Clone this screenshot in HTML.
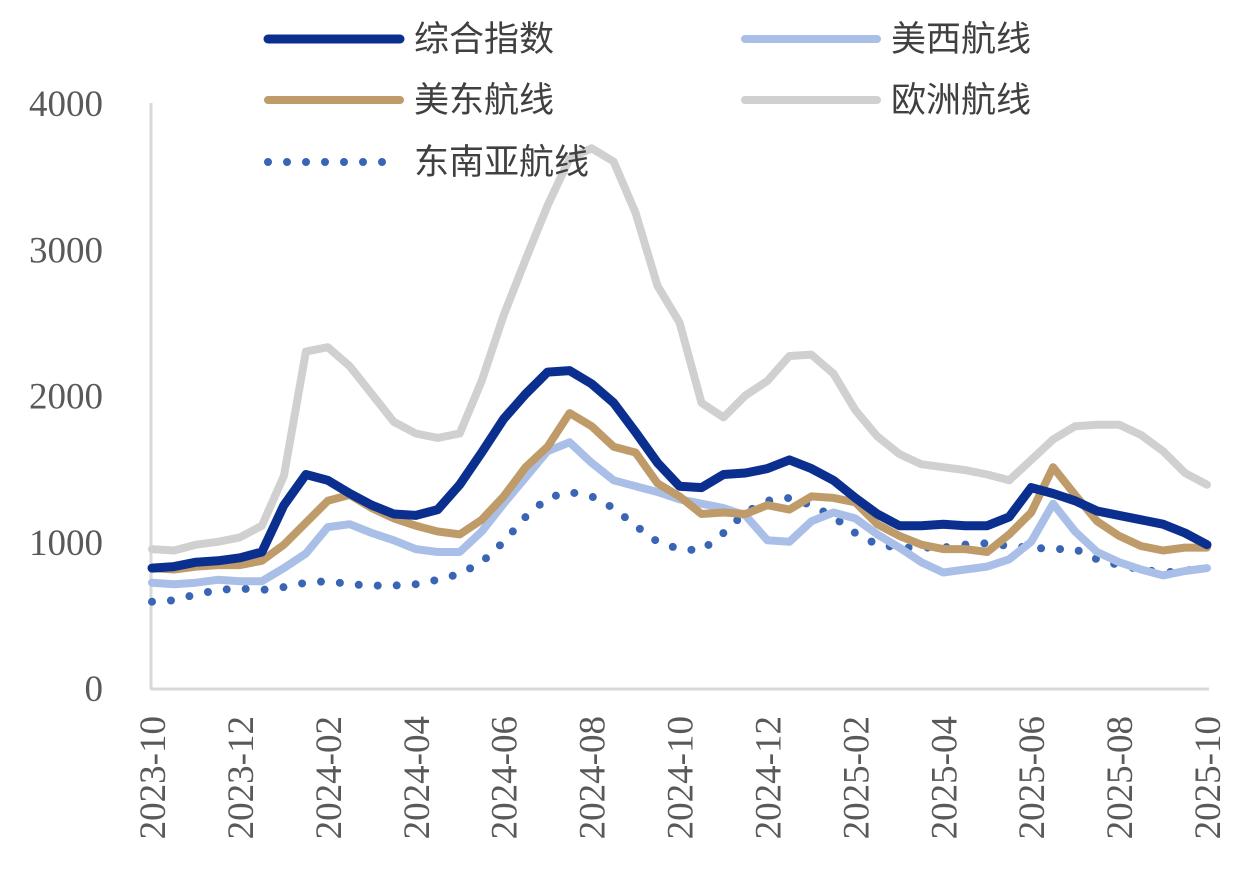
<!DOCTYPE html>
<html><head><meta charset="utf-8"><style>
html,body{margin:0;padding:0;background:#fff;}
svg{display:block;}
.tick{font-family:"Liberation Serif","Noto Serif CJK SC",serif;font-size:37px;fill:#595959;}
.leg{font-family:"Liberation Sans","Noto Sans CJK SC",sans-serif;font-size:35px;fill:#404040;}
</style></head><body>
<svg id="chart" width="1245" height="873" viewBox="0 0 1245 873" xmlns="http://www.w3.org/2000/svg">
<g id="axes"></g>
<g id="series"></g>
<g id="legend"></g>
</svg>
<script>
// months since 2023-10, every half month
const monthOffsets = [];
for (let i = 0; i <= 48; i++) monthOffsets.push(i / 2);
const xTickLabels = ["2023-10","2023-12","2024-02","2024-04","2024-06","2024-08","2024-10","2024-12","2025-02","2025-04","2025-06","2025-08","2025-10"];
const yTickValues = [0, 1000, 2000, 3000, 4000];
const composite = [820,830,860,870,890,930,1250,1460,1420,1330,1250,1190,1180,1220,1390,1610,1840,2010,2160,2170,2080,1950,1750,1540,1380,1370,1460,1470,1500,1560,1500,1420,1300,1190,1110,1110,1120,1110,1110,1170,1370,1330,1280,1210,1180,1150,1120,1060,980];
const usWest = [720,710,720,740,730,730,820,920,1100,1120,1060,1010,950,930,930,1070,1260,1440,1620,1680,1540,1420,1380,1340,1290,1260,1230,1180,1010,1000,1140,1200,1160,1050,960,860,790,810,830,880,1000,1260,1070,930,860,810,770,800,820];
const usEast = [820,810,830,840,840,870,980,1130,1280,1320,1230,1160,1110,1070,1050,1150,1310,1510,1650,1880,1790,1650,1610,1400,1310,1190,1200,1190,1250,1220,1310,1300,1270,1120,1040,980,950,950,930,1050,1200,1510,1320,1140,1040,970,940,960,960];
const europe = [950,940,980,1000,1030,1110,1450,2300,2330,2200,2010,1820,1740,1710,1740,2100,2550,2930,3300,3620,3690,3600,3250,2750,2500,1950,1850,2000,2100,2270,2280,2150,1900,1720,1600,1530,1510,1490,1460,1420,1560,1700,1790,1800,1800,1730,1620,1470,1390];
const seAsia = [590,600,640,670,680,670,690,720,730,710,700,700,710,740,780,860,1000,1170,1300,1340,1310,1230,1110,1000,950,940,1060,1200,1280,1300,1250,1170,1060,980,960,960,960,980,990,970,960,950,950,880,840,810,790,800,830];

const NS = "http://www.w3.org/2000/svg";
const X0 = 152, X1 = 1207, Y0 = 688, Y1 = 103;
const xScale = m => X0 + (X1 - X0) * m / 24;
const yScale = v => Y0 - (Y0 - Y1) * v / 4000;
function mk(tag, attrs, parent){const e=document.createElementNS(NS,tag);for(const k in attrs)e.setAttribute(k,attrs[k]);parent.appendChild(e);return e;}

const axes = document.getElementById('axes');
const yAxis = mk('line',{x1:151,y1:Y1,x2:151,y2:Y0+1,stroke:'#d9d9d9','stroke-width':3},axes);


const xAxis = mk('line',{x1:150,y1:Y0+1,x2:X1+2,y2:Y0+1,stroke:'#d9d9d9','stroke-width':3},axes);


yTickValues.forEach(v=>{
  const t = mk('text',{x:103,y:yScale(v)+13,'text-anchor':'end',class:'tick'},axes);
  t.textContent = v;
  
  
});
xTickLabels.forEach((lab,i)=>{
  const x = xScale(i*2);
  const t = mk('text',{x:0,y:0,'text-anchor':'end',class:'tick',transform:`translate(${x+13},716) rotate(-90)`},axes);
  t.textContent = lab;
  
  
});

const seriesG = document.getElementById('series');
function pts(vals){return vals.map((v,i)=>xScale(monthOffsets[i]).toFixed(1)+','+yScale(v).toFixed(1)).join(' ');}
function drawLine(vals,color,w,name,dash){
  const a = {points:pts(vals),fill:'none',stroke:color,'stroke-width':w,'stroke-linejoin':'round','stroke-linecap':'round'};
  if(dash) a['stroke-dasharray']=dash;
  const p = mk('polyline',a,seriesG);
  
  
}
drawLine(europe,'#d0d0d0',8,'europe-line');
drawLine(seAsia,'#3a64b4',8,'southeast-asia-line','0 19');
drawLine(usWest,'#a9bfe8',8,'us-west-line');
drawLine(usEast,'#bf9b6a',8,'us-east-line');
drawLine(composite,'#0b2f8f',9,'composite-line');

const legend = document.getElementById('legend');
const legItems = [
  ['综合指数','#0b2f8f',9,null,268,39,'legend-composite'],
  ['美西航线','#a9bfe8',8,null,745,39,'legend-us-west'],
  ['美东航线','#bf9b6a',8,null,268,100,'legend-us-east'],
  ['欧洲航线','#d0d0d0',8,null,745,100,'legend-europe'],
  ['东南亚航线','#3a64b4',8,'0 19',268,162,'legend-southeast-asia']
];
legItems.forEach(it=>{
  const g = mk('g',{},legend);
  
  
  const a = {x1:it[4],y1:it[5],x2:it[4]+132,y2:it[5],stroke:it[1],'stroke-width':it[2],'stroke-linecap':'round'};
  if(it[3]) a['stroke-dasharray']=it[3];
  mk('line',a,g);
  const t = mk('text',{x:it[4]+146,y:it[5]+12,class:'leg'},g);
  t.textContent = it[0];
});
</script>
</body></html>
